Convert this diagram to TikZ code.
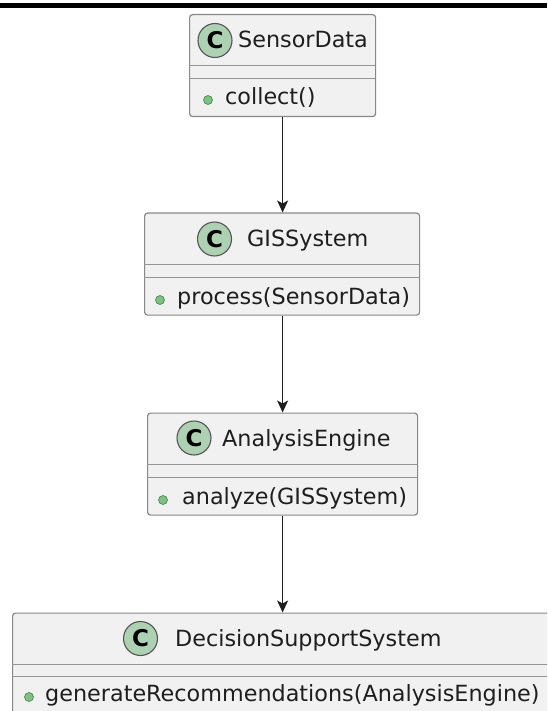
\documentclass[tikz,border=0pt]{standalone}
\usepackage{fontspec}
\setmainfont{DejaVu Sans}
\usetikzlibrary{arrows.meta}
\definecolor{boxfill}{HTML}{F1F1F1}
\definecolor{boxline}{HTML}{888888}
\definecolor{sepline}{HTML}{959595}
\definecolor{circfill}{HTML}{ADD1B2}
\definecolor{circline}{HTML}{555555}
\definecolor{dotfill}{HTML}{84BE84}
\definecolor{dotline}{HTML}{3A8A4A}
\definecolor{ink}{HTML}{1E1E1E}
\tikzset{
  classbox/.style={draw=boxline, fill=boxfill, line width=1.2pt, rounded corners=3pt,
    anchor=north west, inner sep=0pt, minimum height=102pt},
  sep/.style={draw=sepline, line width=1.2pt},
  classmark/.style={circle, draw=circline, fill=circfill, line width=1.1pt,
    minimum size=34pt, inner sep=0pt, font=\fontsize{23}{23}\selectfont\bfseries, text=black},
  pubdot/.style={circle, draw=dotline, fill=dotfill, line width=0.6pt,
    minimum size=9pt, inner sep=0pt},
  title/.style={anchor=base west, inner sep=0pt, text=ink, font=\fontsize{22.3}{26}\selectfont},
  member/.style={anchor=base west, inner sep=0pt, text=ink, font=\fontsize{22.3}{26}\selectfont},
  link/.style={draw=ink, line width=1.4pt, -{Stealth[length=12pt,width=11pt,inset=3pt]}}
}
\begin{document}
\begin{tikzpicture}[x=1pt,y=-1pt]
  \useasboundingbox (0,0) rectangle (547,711);
  \clip (0,0) rectangle (547,711);
  \fill[white] (0,0) rectangle (547,711);

  % heavy rule along the top
  \fill[black] (0,3) rectangle (547,8.5);

  % ---------- SensorData ----------
  \node[classbox, minimum width=186pt] (sd) at (189,14) {};
  \draw[sep] (189,65.5) -- (375,65.5);
  \draw[sep] (189,78.5) -- (375,78.5);
  \node[classmark] (sdc) at (215,40.5) {C};
  \node[title] (sdt) at (238,48) {SensorData};
  \node[pubdot] (sdd) at (208,100) {};
  \node[member] (sdm) at (225,104.5) {collect()};

  % ---------- GISSystem ----------
  \node[classbox, minimum width=275pt] (gis) at (144,212.5) {};
  \draw[sep] (144,264.5) -- (419,264.5);
  \draw[sep] (144,277.5) -- (419,277.5);
  \node[classmark] (gisc) at (214.5,239) {C};
  \node[title] (gist) at (247,246.5) {GISSystem};
  \node[pubdot] (gisd) at (160,300) {};
  \node[member] (gism) at (177,304) {process(SensorData)};

  % ---------- AnalysisEngine ----------
  \node[classbox, minimum width=270pt] (ae) at (147,412.5) {};
  \draw[sep] (147,464.5) -- (417,464.5);
  \draw[sep] (147,477.5) -- (417,477.5);
  \node[classmark] (aec) at (194,438) {C};
  \node[title] (aet) at (222,446) {AnalysisEngine};
  \node[pubdot] (aed) at (163,500) {};
  \node[member] (aem) at (182,504) {analyze(GISSystem)};

  % ---------- DecisionSupportSystem ----------
  \node[classbox, minimum width=540pt] (dss) at (12,612.5) {};
  \draw[sep] (12,664.5) -- (552,664.5);
  \draw[sep] (12,676.5) -- (552,676.5);
  \node[classmark] (dssc) at (140.5,638.5) {C};
  \node[title] (dsst) at (175,646.5) {DecisionSupportSystem};
  \node[pubdot] (dssd) at (29,697) {};
  \node[member] (dssm) at (45,701.5) {generateRecommendations(AnalysisEngine)};

  % ---------- dependencies (straight down) ----------
  \draw[link] (sd.south) -- (sd.south |- gis.north);
  \draw[link] (sd.south |- gis.south) -- (sd.south |- ae.north);
  \draw[link] (ae.south) -- (ae.south |- dss.north);
\end{tikzpicture}
\end{document}
